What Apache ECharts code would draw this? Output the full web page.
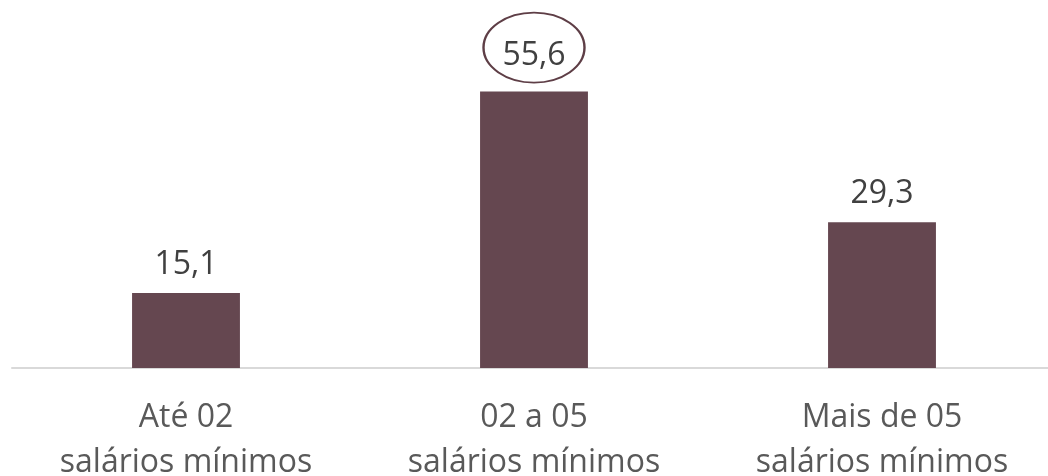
<!DOCTYPE html>
<html>
<head>
<meta charset="utf-8">
<script src="https://cdn.jsdelivr.net/npm/echarts@6/dist/echarts.min.js"></script>
<style>
  html, body { margin: 0; padding: 0; background: #fff; }
  #grafico { width: 1048px; height: 476px; }
</style>
</head>
<body>
<div id="grafico"></div>
<script>
var categorias = ['Até 02\nsalários mínimos', '02 a 05\nsalários mínimos', 'Mais de 05\nsalários mínimos'];
var valores = [15.1, 55.6, 29.3];
var destaque = 1; // barra com o valor circulado

var corBarra = '#654750';
var corTexto = '#404040';

var chartDom = document.getElementById('grafico');
var chart = echarts.init(chartDom);

var dados = valores.map(function (v, i) {
    if (i === destaque) {
        return { value: v, label: { distance: 20 } };
    }
    return v;
});

var option = {
    animation: false,
    grid: { left: 12, width: 1044, top: 20, height: 348, outerBoundsMode: 'none', containLabel: false },
    xAxis: {
        type: 'category',
        data: categorias,
        axisLine: { lineStyle: { color: '#d9d9d9', width: 2 } },
        axisTick: { show: false },
        axisLabel: {
            fontFamily: 'Open Sans',
            fontSize: 32,
            lineHeight: 45,
            color: '#595959',
            margin: 27
        }
    },
    yAxis: {
        type: 'value',
        min: 0,
        max: 70,
        show: false
    },
    series: [
        {
            type: 'bar',
            data: dados,
            barWidth: '31%',
            itemStyle: { color: corBarra },
            label: {
                show: true,
                position: 'top',
                distance: 12,
                fontFamily: 'Open Sans',
                fontSize: 32,
                color: corTexto,
                formatter: function (p) {
                    return String(p.value).replace('.', ',');
                }
            },
            markPoint: {
                silent: true,
                symbol: 'circle',
                symbolSize: [101, 70],
                symbolOffset: [0, -44],
                itemStyle: { color: 'rgba(0,0,0,0)', borderColor: '#5e3e46', borderWidth: 2 },
                label: { show: false },
                data: [{ coord: [destaque, valores[destaque]] }]
            }
        }
    ]
};
chart.setOption(option);

window.addEventListener('resize', function () {
    chart.resize();
});
</script>
</body>
</html>
